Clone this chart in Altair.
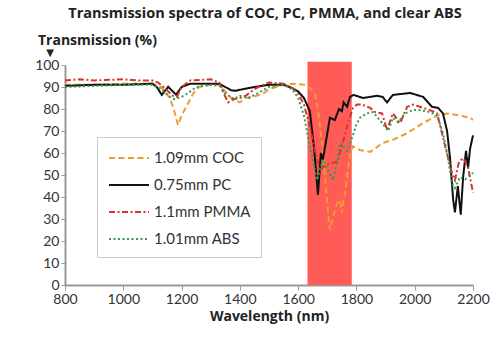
import altair as alt
import pandas as pd

# ---- data ----
series_names = ["1.09mm COC", "0.75mm PC", "1.1mm PMMA", "1.01mm ABS"]
series_colors = ["#EE9B33", "#111111", "#D4362E", "#2E9E4E"]
series_dashes = [[6, 3.5], [1, 0], [6, 2.5, 2, 2.5], [2, 2.5]]

coc_wl = [800, 900, 1000, 1100, 1130, 1160, 1175, 1188, 1200, 1220, 1240, 1260, 1300, 1330, 1350, 1370,
          1400, 1420, 1446, 1480, 1500, 1550, 1580, 1624, 1645, 1658, 1668, 1682, 1692, 1703, 1709, 1720,
          1733, 1744, 1750, 1754, 1761, 1768, 1778, 1788, 1812, 1847, 1864, 1888, 1925, 1974, 2029, 2077,
          2111, 2155, 2190, 2200]
coc_t = [91, 91, 91.5, 91.5, 90, 85, 79, 72.7, 77, 82, 87, 90, 91, 91, 88, 85,
         83, 85, 85.5, 87, 89, 91, 91.5, 91, 89, 87, 79.5, 64.5, 49, 32.7, 25, 31,
         37, 38.6, 32.7, 37, 42, 49, 60, 63, 61.4, 60.5, 62, 64.5, 66, 69, 73.6, 77,
         78, 77, 76, 75]

pc_wl = [800, 900, 1000, 1100, 1115, 1132, 1154, 1170, 1181, 1200, 1230, 1330, 1350, 1370, 1385, 1410,
         1450, 1500, 1550, 1580, 1600, 1620, 1640, 1655, 1668, 1678, 1685, 1699, 1709, 1726, 1740, 1750,
         1756, 1768, 1778, 1790, 1823, 1870, 1890, 1905, 1925, 1984, 2029, 2059, 2080, 2097, 2111, 2121,
         2132, 2138, 2148, 2158, 2166, 2176, 2183, 2190, 2200]
pc_t = [90.5, 91, 91, 91.5, 90, 86.4, 90.1, 88, 86.5, 90, 91.5, 91.5, 90, 88.5, 88.3, 89,
        90, 91, 91, 89.5, 88, 85, 79, 62, 41, 60, 57, 68, 76, 75, 80, 79,
        83, 81, 85.5, 86.4, 85, 86, 85.5, 83, 86.4, 87.3, 85.5, 81, 80.5, 78, 70, 58,
        38.6, 33, 45, 32, 49, 61, 53, 62, 68]

pmma_wl = [800, 850, 900, 1000, 1050, 1100, 1120, 1150, 1170, 1184, 1200, 1230, 1300, 1330, 1345, 1360,
           1380, 1400, 1420, 1450, 1480, 1500, 1550, 1580, 1600, 1620, 1640, 1660, 1675, 1692, 1716, 1735,
           1754, 1771, 1788, 1802, 1819, 1847, 1864, 1888, 1905, 1925, 1950, 1974, 1994, 2018, 2053, 2077,
           2097, 2114, 2128, 2138, 2152, 2166, 2183, 2200]
pmma_t = [93, 93.5, 93, 93.5, 93, 93, 92, 88.5, 86, 85.5, 90, 93, 93.5, 92, 87, 83,
          84.5, 85, 86, 89, 91, 92, 91.5, 89.5, 87, 82, 72, 60, 52, 54.5, 55.5, 56,
          65, 73.6, 80.5, 82, 82, 80.5, 78.6, 78, 70.5, 78, 73.6, 81, 82, 81, 79.5, 78,
          67, 58, 51, 47.7, 56, 57.7, 53.6, 42]

abs_wl = [800, 900, 1000, 1100, 1130, 1160, 1175, 1200, 1220, 1250, 1300, 1330, 1350, 1380, 1400, 1430,
          1460, 1500, 1550, 1580, 1600, 1620, 1640, 1665, 1685, 1703, 1720, 1732, 1744, 1768, 1785, 1800,
          1812, 1836, 1857, 1874, 1898, 1909, 1925, 1943, 1967, 1994, 2018, 2053, 2077, 2097, 2114, 2128,
          2138, 2155, 2173, 2200]
abs_t = [90, 90.5, 91, 91, 89, 85.5, 84.5, 85.5, 87, 90, 91, 90.5, 87, 84.5, 86, 85,
         87, 90, 91, 89, 85, 77, 63, 47.7, 57, 52, 47.7, 55, 64.5, 61, 67, 73,
         76, 78, 78.6, 76, 72, 70, 76, 74, 78, 79.5, 79.5, 78.6, 77, 69, 58, 46,
         44, 49, 48, 51]

band_start = [1632]
band_end = [1784]
band_top = [101.5]

x_ticks = [800, 1000, 1200, 1400, 1600, 1800, 2000, 2200]
y_ticks = [0, 10, 20, 30, 40, 50, 60, 70, 80, 90, 100]

# ---- build tables ----
rows = []
for name, wls, ts in zip(series_names, [coc_wl, pc_wl, pmma_wl, abs_wl], [coc_t, pc_t, pmma_t, abs_t]):
    for i, (w, t) in enumerate(zip(wls, ts)):
        rows.append({"series": name, "wl": w, "t": t, "order": i})
df = pd.DataFrame(rows)
band_df = pd.DataFrame({"x0": band_start, "x1": band_end, "y0": [0], "y1": band_top})

FONT = "Lato"
TFONT = "Open Sans"

x_scale = alt.Scale(domain=[800, 2200], nice=False)
y_scale = alt.Scale(domain=[0, 100], nice=False)

x_axis = alt.Axis(values=x_ticks, title="Wavelength (nm)", grid=False, format="d",
                  labelFontSize=14, labelColor="#333", labelFont=FONT, labelOverlap=False,
                  labelFlush=False,
                  titleFont=TFONT, titleFontSize=14, titleFontWeight="bold", titleColor="#222",
                  titlePadding=3, domainColor="#999", domainWidth=2, tickColor="#999",
                  tickSize=5, labelPadding=2)
y_axis = alt.Axis(values=y_ticks, title=None, grid=False, labelOverlap=False,
                  labelFlush=False,
                  labelFontSize=14, labelColor="#333", labelFont=FONT,
                  domainColor="#999", domainWidth=2, tickColor="#999",
                  tickSize=4, labelPadding=2)

band = alt.Chart(band_df).mark_rect(color="#FF5B57", opacity=1).encode(
    x=alt.X("x0:Q", scale=x_scale, axis=x_axis),
    x2="x1:Q",
    y=alt.Y("y0:Q", scale=y_scale, axis=y_axis),
    y2="y1:Q",
)

legend = alt.Legend(title=None, orient="none", legendX=32, legendY=72,
                    padding=10, strokeColor="#cccccc", fillColor="white",
                    symbolType="M-2,0H2", symbolSize=400, symbolStrokeWidth=2,
                    symbolOffset=11,
                    labelFontSize=15, labelFont=FONT, labelColor="#333",
                    rowPadding=8, labelOffset=14, cornerRadius=0, offset=0)

lines = alt.Chart(df).mark_line(strokeWidth=2).encode(
    x=alt.X("wl:Q", scale=x_scale, axis=x_axis),
    y=alt.Y("t:Q", scale=y_scale, axis=y_axis),
    order="order:Q",
    color=alt.Color("series:N", scale=alt.Scale(domain=series_names, range=series_colors),
                    legend=legend),
    strokeDash=alt.StrokeDash("series:N", scale=alt.Scale(domain=series_names, range=series_dashes),
                              legend=legend),
)

one = pd.DataFrame({"a": [0]})
title_txt = alt.Chart(one).mark_text(text="Transmission spectra of COC, PC, PMMA, and clear ABS",
                                     font=TFONT, fontSize=14.5, fontWeight="bold", color="#222",
                                     align="center", baseline="alphabetic").encode(
    x=alt.value(200), y=alt.value(-47))
ytitle_txt = alt.Chart(one).mark_text(text="Transmission (%)", font=TFONT, fontSize=14,
                                      fontWeight="bold", color="#222", align="left",
                                      baseline="alphabetic").encode(
    x=alt.value(-27), y=alt.value(-20))
arrow_txt = alt.Chart(one).mark_text(text="▼", font="DejaVu Sans", fontSize=10, color="#222",
                                     align="center", baseline="middle").encode(
    x=alt.value(-15), y=alt.value(-12))

chart = alt.layer(band, lines, title_txt, ytitle_txt, arrow_txt).properties(
    width=408, height=220,
    autosize=alt.AutoSizeParams(type="none"),
    padding={"left": 65, "top": 65, "right": 27, "bottom": 67},
    background="white",
).configure_view(stroke=None)

chart.save("out.html", embed_options={"renderer": "svg", "actions": False})
